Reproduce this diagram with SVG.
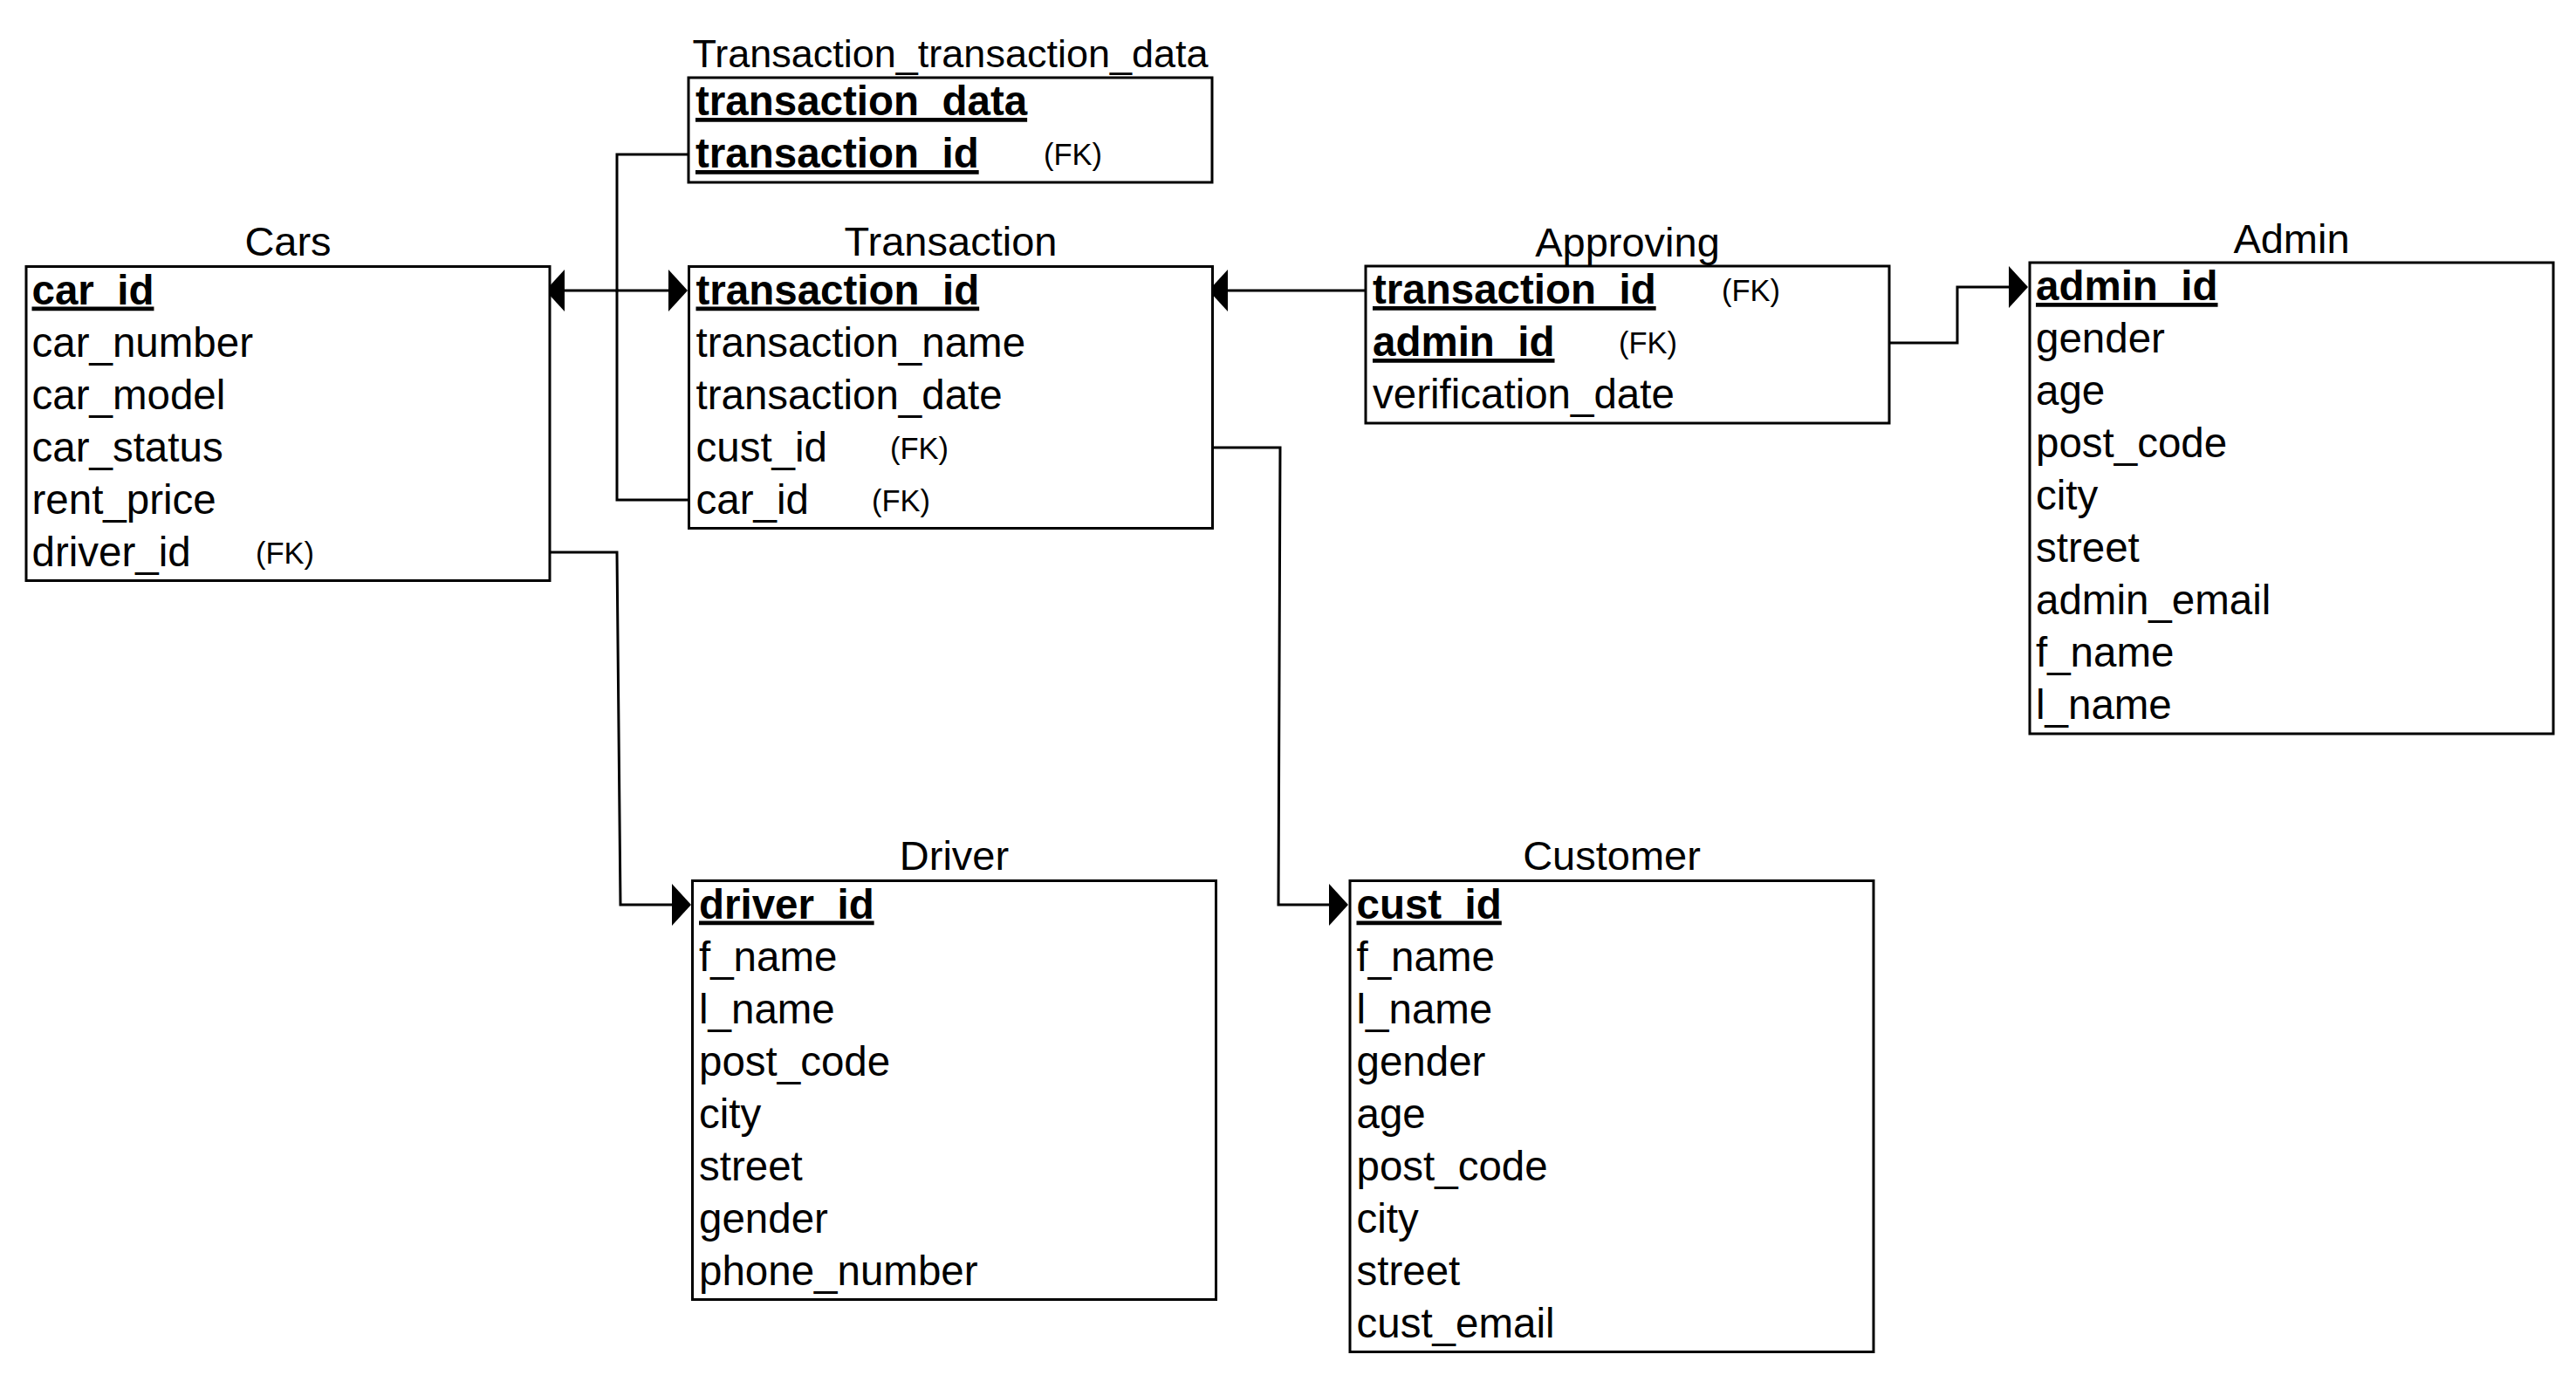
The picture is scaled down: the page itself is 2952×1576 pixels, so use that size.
<svg xmlns="http://www.w3.org/2000/svg" width="2952" height="1576" viewBox="0 0 2952 1576">
<style>
.box{fill:#fff;stroke:#000;stroke-width:3}
.ttl{font-family:"Liberation Sans",Arial,sans-serif;font-size:47px;fill:#000;text-anchor:middle}
.row{font-family:"Liberation Sans",Arial,sans-serif;font-size:47.5px;fill:#000}
.pk{font-weight:bold;text-decoration:underline}
.fk{font-family:"Liberation Sans",Arial,sans-serif;font-size:34.5px;fill:#000}
.edge{fill:none;stroke:#000;stroke-width:3;marker-end:url(#arr)}
</style>
<defs>
<marker id="arr" markerUnits="userSpaceOnUse" viewBox="0 0 22 48" refX="20" refY="24" markerWidth="22" markerHeight="48" orient="auto">
<path d="M0,0 L22,24 L0,48 Z" fill="#000"/>
</marker>
</defs>
<rect x="0" y="0" width="2952" height="1576" fill="#fff"/>

<g id="connectors">
<path class="edge" d="M789 573 H707 V333 H627"/>
<path class="edge" d="M789 177 H707 V333 H786"/>
<path class="edge" d="M1565 333 H1387"/>
<path class="edge" d="M2165 393 H2243 V329 H2322"/>
<path class="edge" d="M630 633 H707 L711 1037 H790"/>
<path class="edge" d="M1389 513 H1467 L1465 1037 H1543"/>
</g>

<g id="node-ttd">
<text class="ttl" x="1089" y="77" style="font-size:45px">Transaction_transaction_data</text>
<rect class="box" x="789" y="89" width="600" height="120"/>
<text class="row pk" x="797" y="132">transaction_data</text>
<text class="row pk" x="797" y="192">transaction_id</text>
<text class="fk" x="1196" y="189">(FK)</text>
</g>

<g id="node-cars">
<text class="ttl" x="330" y="293">Cars</text>
<rect class="box" x="30" y="305.5" width="600" height="360"/>
<text class="row pk" x="36.5" y="348.5">car_id</text>
<text class="row" x="36.5" y="408.5">car_number</text>
<text class="row" x="36.5" y="468.5">car_model</text>
<text class="row" x="36.5" y="528.5">car_status</text>
<text class="row" x="36.5" y="588.5">rent_price</text>
<text class="row" x="36.5" y="648.5">driver_id</text>
<text class="fk" x="293" y="645.5">(FK)</text>
</g>

<g id="node-transaction">
<text class="ttl" x="1089.5" y="293">Transaction</text>
<rect class="box" x="789.5" y="305.5" width="600" height="300"/>
<text class="row pk" x="797.5" y="348.5">transaction_id</text>
<text class="row" x="797.5" y="408.5">transaction_name</text>
<text class="row" x="797.5" y="468.5">transaction_date</text>
<text class="row" x="797.5" y="528.5">cust_id</text>
<text class="fk" x="1020" y="525.5">(FK)</text>
<text class="row" x="797.5" y="588.5">car_id</text>
<text class="fk" x="999" y="585.5">(FK)</text>
</g>

<g id="node-approving">
<text class="ttl" x="1865" y="293.5">Approving</text>
<rect class="box" x="1565" y="305" width="600" height="180"/>
<text class="row pk" x="1573" y="348">transaction_id</text>
<text class="fk" x="1973" y="345">(FK)</text>
<text class="row pk" x="1573" y="408">admin_id</text>
<text class="fk" x="1855" y="405">(FK)</text>
<text class="row" x="1573" y="468">verification_date</text>
</g>

<g id="node-admin">
<text class="ttl" x="2626" y="290">Admin</text>
<rect class="box" x="2326" y="301" width="600" height="540"/>
<text class="row pk" x="2333" y="344">admin_id</text>
<text class="row" x="2333" y="404">gender</text>
<text class="row" x="2333" y="464">age</text>
<text class="row" x="2333" y="524">post_code</text>
<text class="row" x="2333" y="584">city</text>
<text class="row" x="2333" y="644">street</text>
<text class="row" x="2333" y="704">admin_email</text>
<text class="row" x="2333" y="764">f_name</text>
<text class="row" x="2333" y="824">l_name</text>
</g>

<g id="node-driver">
<text class="ttl" x="1093.5" y="997">Driver</text>
<rect class="box" x="793.5" y="1009.5" width="600" height="480"/>
<text class="row pk" x="801" y="1052.5">driver_id</text>
<text class="row" x="801" y="1112.5">f_name</text>
<text class="row" x="801" y="1172.5">l_name</text>
<text class="row" x="801" y="1232.5">post_code</text>
<text class="row" x="801" y="1292.5">city</text>
<text class="row" x="801" y="1352.5">street</text>
<text class="row" x="801" y="1412.5">gender</text>
<text class="row" x="801" y="1472.5">phone_number</text>
</g>

<g id="node-customer">
<text class="ttl" x="1847" y="997">Customer</text>
<rect class="box" x="1547" y="1009.5" width="600" height="540"/>
<text class="row pk" x="1554.5" y="1052.5">cust_id</text>
<text class="row" x="1554.5" y="1112.5">f_name</text>
<text class="row" x="1554.5" y="1172.5">l_name</text>
<text class="row" x="1554.5" y="1232.5">gender</text>
<text class="row" x="1554.5" y="1292.5">age</text>
<text class="row" x="1554.5" y="1352.5">post_code</text>
<text class="row" x="1554.5" y="1412.5">city</text>
<text class="row" x="1554.5" y="1472.5">street</text>
<text class="row" x="1554.5" y="1532.5">cust_email</text>
</g>
</svg>
